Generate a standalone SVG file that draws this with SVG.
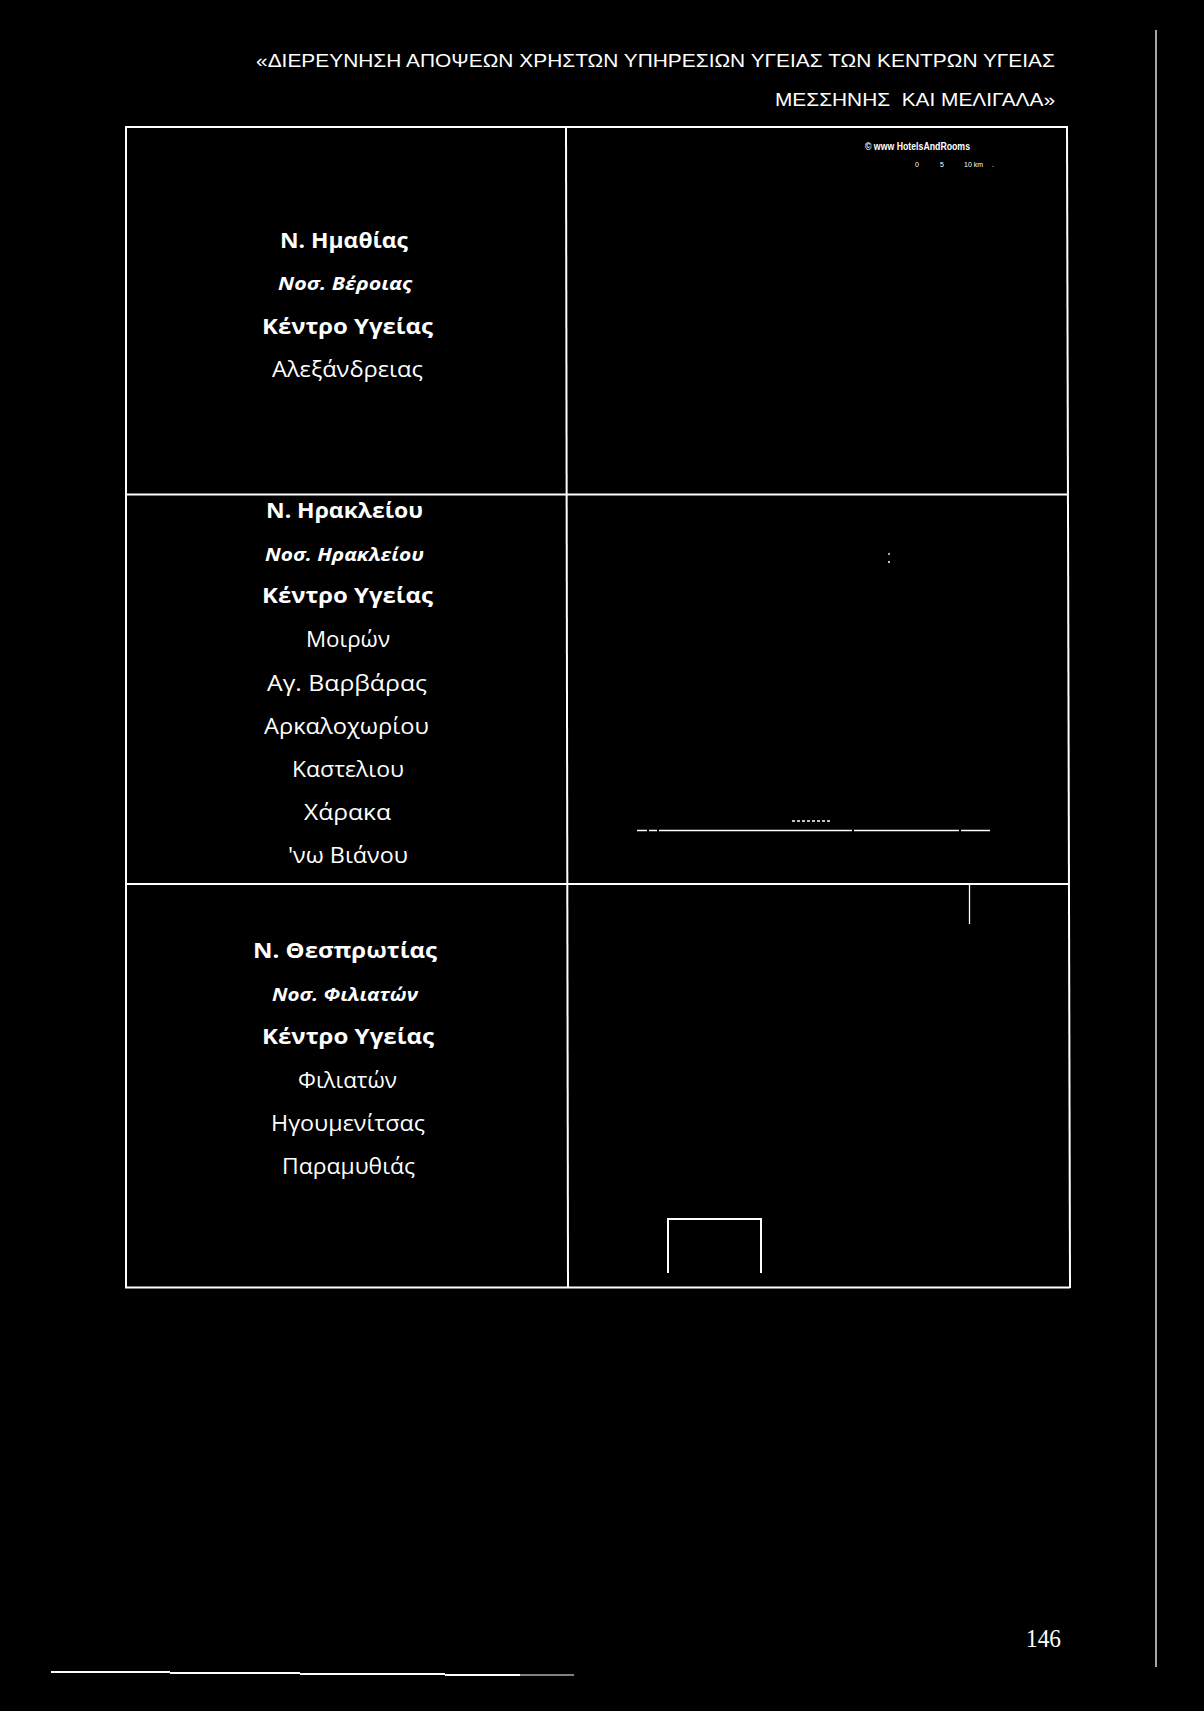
<svg xmlns="http://www.w3.org/2000/svg" width="1204" height="1711" viewBox="0 0 1204 1711">
<style>
.ln{stroke:#fff;stroke-width:2;fill:none}
.thin{stroke:#fff;stroke-width:1.3;fill:none}
.hd{font-family:"Liberation Sans",Arial,sans-serif;font-size:17.5px;fill:#fff}
.b{font-family:"Open Sans","Liberation Sans",sans-serif;font-size:22px;font-weight:bold;fill:#fff}
.i{font-family:"Open Sans","Liberation Sans",sans-serif;font-size:17px;font-weight:bold;font-style:italic;fill:#fff}
.r{font-family:"Open Sans","Liberation Sans",sans-serif;font-size:22px;fill:#fff}
.wm{font-family:"Liberation Sans",Arial,sans-serif;fill:#fff}
</style>
<rect x="0" y="0" width="1204" height="1711" fill="#000"/>

<g id="header">
<text class="hd" x="256" y="67" textLength="799" lengthAdjust="spacingAndGlyphs">«ΔΙΕΡΕΥΝΗΣΗ ΑΠΟΨΕΩΝ ΧΡΗΣΤΩΝ ΥΠΗΡΕΣΙΩΝ ΥΓΕΙΑΣ ΤΩΝ ΚΕΝΤΡΩΝ ΥΓΕΙΑΣ</text>
<text class="hd" x="775" y="106" textLength="280" lengthAdjust="spacingAndGlyphs">ΜΕΣΣΗΝΗΣ &#160;ΚΑΙ ΜΕΛΙΓΑΛΑ»</text>
</g>

<g id="margin">
<line class="thin" x1="1156" y1="30" x2="1156" y2="1667"/>
<path class="ln" d="M51 1672 H170 M170 1673 H300 M300 1674 H445 M445 1675 H520"/>
<line x1="520" y1="1675" x2="574" y2="1675" stroke="#fff" stroke-width="1"/>
<text x="1026" y="1647" font-family="'Liberation Serif','Times New Roman',serif" font-size="25" fill="#fff" textLength="35" lengthAdjust="spacingAndGlyphs">146</text>
</g>

<g id="table">
<line class="ln" x1="125" y1="127" x2="1068" y2="127"/>
<line class="ln" x1="126" y1="126" x2="126" y2="1288"/>
<line class="ln" x1="566" y1="127" x2="568" y2="1287"/>
<line class="ln" x1="1067" y1="126" x2="1070" y2="1288"/>
<line class="ln" x1="125" y1="494.5" x2="1068" y2="494.5"/>
<line class="ln" x1="125" y1="884" x2="1069" y2="884"/>
<line class="ln" x1="125" y1="1287.5" x2="1070" y2="1287.5"/>
</g>

<g id="row1-left">
<text class="b" x="280" y="248" textLength="128" lengthAdjust="spacingAndGlyphs">Ν. Ημαθίας</text>
<text class="i" x="278" y="290" textLength="134" lengthAdjust="spacingAndGlyphs">Νοσ. Βέροιας</text>
<text class="b" x="262" y="334" textLength="171" lengthAdjust="spacingAndGlyphs">Κέντρο Υγείας</text>
<text class="r" x="272" y="377" textLength="151" lengthAdjust="spacingAndGlyphs">Αλεξάνδρειας</text>
</g>

<g id="row1-right">
<text class="wm" x="865" y="150" font-size="11" font-weight="bold" textLength="105" lengthAdjust="spacingAndGlyphs">© www HotelsAndRooms</text>
<text class="wm" x="915" y="167" font-size="7">0</text>
<text class="wm" x="940" y="167" font-size="7">5</text>
<text class="wm" x="964" y="167" font-size="7">10 km</text>
<text class="wm" x="992" y="167" font-size="7">.</text>
</g>

<g id="row2-left">
<text class="b" x="266" y="518" textLength="157" lengthAdjust="spacingAndGlyphs">Ν. Ηρακλείου</text>
<text class="i" x="265" y="561" textLength="159" lengthAdjust="spacingAndGlyphs">Νοσ. Ηρακλείου</text>
<text class="b" x="262" y="603" textLength="171" lengthAdjust="spacingAndGlyphs">Κέντρο Υγείας</text>
<text class="r" x="306" y="647" textLength="84" lengthAdjust="spacingAndGlyphs">Μοιρών</text>
<text class="r" x="267" y="691" textLength="160" lengthAdjust="spacingAndGlyphs">Αγ. Βαρβάρας</text>
<text class="r" x="264" y="734" textLength="165" lengthAdjust="spacingAndGlyphs">Αρκαλοχωρίου</text>
<text class="r" x="292" y="777" textLength="112" lengthAdjust="spacingAndGlyphs">Καστελιου</text>
<text class="r" x="304" y="820" textLength="87" lengthAdjust="spacingAndGlyphs">Χάρακα</text>
<text class="r" x="288" y="863" textLength="120" lengthAdjust="spacingAndGlyphs">'νω Βιάνου</text>
</g>

<g id="row2-right">
<path class="thin" d="M889 553 V555 M888 562 H890"/>
<line x1="792" y1="821" x2="831" y2="821" stroke="#fff" stroke-width="1.5" stroke-dasharray="3,2"/>
<path class="thin" d="M637 830.5 H647 M649 830.5 H657 M659 830.5 H852 M854 830.5 H959 M961 830.5 H990"/>
</g>

<g id="row3-left">
<text class="b" x="253" y="958" textLength="184" lengthAdjust="spacingAndGlyphs">Ν. Θεσπρωτίας</text>
<text class="i" x="272" y="1001" textLength="146" lengthAdjust="spacingAndGlyphs">Νοσ. Φιλιατών</text>
<text class="b" x="262" y="1044" textLength="172" lengthAdjust="spacingAndGlyphs">Κέντρο Υγείας</text>
<text class="r" x="298" y="1088" textLength="99" lengthAdjust="spacingAndGlyphs">Φιλιατών</text>
<text class="r" x="271" y="1131" textLength="154" lengthAdjust="spacingAndGlyphs">Ηγουμενίτσας</text>
<text class="r" x="282" y="1174" textLength="133" lengthAdjust="spacingAndGlyphs">Παραμυθιάς</text>
</g>

<g id="row3-right">
<line class="thin" x1="969.5" y1="885" x2="969.5" y2="924"/>
<path class="ln" d="M668 1273 V1219 H761 V1273"/>
</g>
</svg>
